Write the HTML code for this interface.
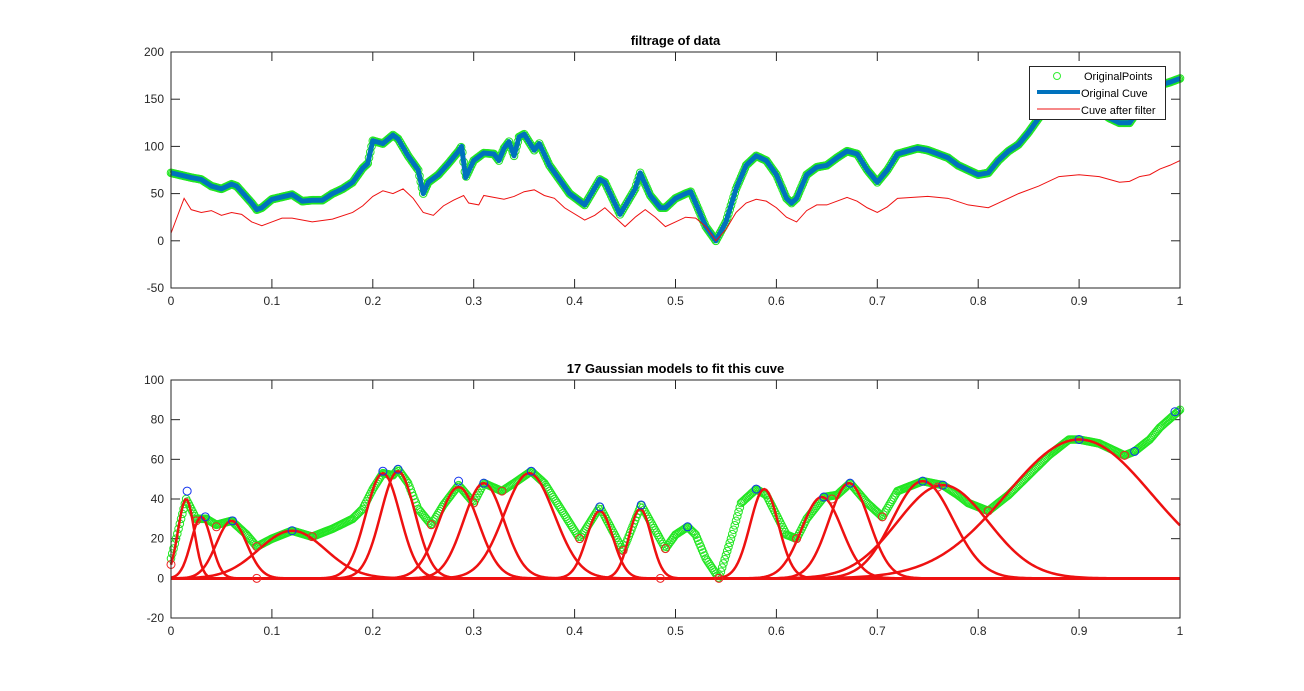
<!DOCTYPE html>
<html><head><meta charset="utf-8"><style>
html,body{margin:0;padding:0;background:#fff;}
svg{display:block;font-family:"Liberation Sans",sans-serif;}
</style></head><body>
<svg id="chart" width="1304" height="691" viewBox="0 0 1304 691">
<rect width="1304" height="691" fill="#ffffff"/>
</svg>
<script>
// ---- Top chart data ----
const origX = [0,0.02,0.03,0.04,0.05,0.06,0.065,0.08,0.085,0.09,0.1,0.12,0.13,0.14,0.15,0.16,0.17,0.18,0.19,0.195,0.2,0.21,0.22,0.225,0.235,0.245,0.25,0.255,0.265,0.275,0.285,0.288,0.292,0.3,0.31,0.32,0.325,0.33,0.335,0.34,0.345,0.35,0.36,0.365,0.375,0.385,0.395,0.41,0.425,0.43,0.445,0.46,0.465,0.475,0.485,0.49,0.5,0.51,0.515,0.52,0.53,0.54,0.55,0.56,0.57,0.58,0.59,0.6,0.61,0.615,0.62,0.63,0.64,0.65,0.66,0.67,0.68,0.69,0.7,0.71,0.72,0.74,0.75,0.76,0.77,0.78,0.79,0.8,0.81,0.82,0.83,0.84,0.85,0.86,0.87,0.88,0.9,0.91,0.93,0.94,0.95,0.96,0.97,0.98,0.99,1.0];
const origY = [72,67,65,58,55,60,58,40,33,35,44,49,42,43,43,50,55,62,77,82,106,103,112,108,90,75,50,62,70,82,95,100,67,85,93,92,85,98,105,90,110,113,96,103,80,65,50,38,65,62,28,55,72,48,35,35,45,50,52,40,15,0,20,55,80,90,85,70,45,40,45,70,78,80,88,95,92,75,62,75,92,98,96,92,88,80,75,70,72,85,95,102,115,130,145,155,152,145,130,125,125,140,155,165,168,172];
const filtX = [0,0.013,0.02,0.03,0.04,0.05,0.06,0.07,0.08,0.09,0.1,0.11,0.12,0.14,0.16,0.18,0.19,0.2,0.21,0.22,0.23,0.24,0.25,0.26,0.27,0.28,0.29,0.295,0.305,0.31,0.32,0.33,0.34,0.35,0.36,0.37,0.38,0.39,0.41,0.42,0.43,0.44,0.45,0.46,0.47,0.48,0.49,0.5,0.51,0.52,0.53,0.54,0.55,0.56,0.57,0.58,0.59,0.6,0.61,0.62,0.63,0.64,0.65,0.67,0.68,0.69,0.7,0.71,0.72,0.75,0.77,0.79,0.81,0.82,0.84,0.86,0.88,0.9,0.92,0.94,0.95,0.96,0.97,0.98,0.99,1.0];
const filtY = [8,45,33,30,32,27,30,28,20,16,20,24,24,20,23,30,37,47,53,50,55,45,30,27,37,43,48,40,38,48,46,44,47,52,54,48,45,35,22,27,35,25,15,25,33,25,15,20,25,24,15,0,12,30,40,44,42,35,25,20,32,38,38,46,42,35,30,36,45,47,45,38,35,40,50,58,68,70,68,62,63,68,70,76,80,85];
const topYTicks = [-50,0,50,100,150,200];
const xTicks = [0,0.1,0.2,0.3,0.4,0.5,0.6,0.7,0.8,0.9,1];
// ---- Bottom chart data ----
const fitX = [0,0.015,0.025,0.035,0.045,0.06,0.075,0.085,0.1,0.12,0.14,0.16,0.18,0.19,0.2,0.21,0.22,0.225,0.235,0.245,0.258,0.27,0.285,0.3,0.31,0.328,0.34,0.357,0.37,0.38,0.39,0.405,0.425,0.448,0.466,0.49,0.5,0.512,0.52,0.53,0.543,0.555,0.565,0.58,0.59,0.6,0.61,0.62,0.63,0.647,0.66,0.673,0.69,0.705,0.72,0.745,0.765,0.78,0.79,0.81,0.83,0.85,0.87,0.89,0.9,0.92,0.945,0.955,0.97,0.98,1.0];
const fitY = [10,40,30,30,27,29,22,16,20,24,21,25,30,35,45,53,52,55,48,35,27,37,47,38,48,44,48,54,48,40,32,20,36,14,37,15,22,26,22,10,0,20,38,45,42,32,22,20,30,41,42,48,38,31,44,49,47,42,38,34,42,52,62,70,70,68,62,64,70,76,85];
const gCenters = [0.015,0.03,0.06,0.12,0.21,0.225,0.285,0.31,0.355,0.425,0.465,0.588,0.645,0.672,0.745,0.765,0.9];
const gHeights = [40,31,29,24,53,54,46,48,53,34,35,45,41,48,49,47,70];
const gSigmas = [0.008,0.01,0.015,0.033,0.017,0.017,0.02,0.02,0.025,0.013,0.011,0.014,0.02,0.02,0.03,0.045,0.072];
const peakX = [0.016,0.034,0.061,0.12,0.21,0.225,0.285,0.31,0.357,0.425,0.466,0.512,0.58,0.647,0.673,0.745,0.765,0.9,0.955,0.995];
const peakY = [44,31,29,24,54,55,49,48,54,36,37,26,45,41,48,49,47,70,64,84];
const valX = [0,0.025,0.045,0.085,0.085,0.14,0.258,0.3,0.328,0.405,0.448,0.485,0.49,0.543,0.62,0.655,0.705,0.76,0.81,0.945];
const valY = [7,29,26,0,16,21,27,38,44,20,14,0,15,0,20,40,31,46,34,62];
const botYTicks = [-20,0,20,40,60,80,100];

const NS = "http://www.w3.org/2000/svg";
const svg = document.getElementById('chart');
function mk(tag, attrs, parent){const e=document.createElementNS(NS,tag);for(const k in attrs)e.setAttribute(k,attrs[k]);(parent||svg).appendChild(e);return e;}
function interp(xs,ys,x){if(x<=xs[0])return ys[0];for(let i=1;i<xs.length;i++){if(x<=xs[i]){const t=(x-xs[i-1])/(xs[i]-xs[i-1]);return ys[i-1]+t*(ys[i]-ys[i-1]);}}return ys[ys.length-1];}

const L=171,R=1180;
function sx(v){return L+v*(R-L);}
function makeAxes(top,bot,ymin,ymax,yTicks,title,name){
  const sy=v=>bot-(v-ymin)/(ymax-ymin)*(bot-top);
  const g=mk('g',{});
  
  
  xTicks.forEach(t=>{
    const x=sx(t);
    const a=mk('line',{x1:x,x2:x,y1:bot,y2:bot-9,stroke:'#262626','stroke-width':1},g);
    
    const b=mk('line',{x1:x,x2:x,y1:top,y2:top+9,stroke:'#262626','stroke-width':1},g);
    
    const tx=mk('text',{x:x,y:bot+17,'text-anchor':'middle','font-size':12,fill:'#262626'},g);
    tx.textContent=String(t);
    
  });
  yTicks.forEach(t=>{
    const y=sy(t);
    const a=mk('line',{x1:L,x2:L+9,y1:y,y2:y,stroke:'#262626','stroke-width':1},g);
    
    const b=mk('line',{x1:R,x2:R-9,y1:y,y2:y,stroke:'#262626','stroke-width':1},g);
    
    const tx=mk('text',{x:L-7,y:y+4,'text-anchor':'end','font-size':12,fill:'#262626'},g);
    tx.textContent=String(t);
    
  });
  const tt=mk('text',{x:(L+R)/2,y:top-7,'text-anchor':'middle','font-size':13,'font-weight':'bold',fill:'#000'},g);
  tt.textContent=title;
  
  return {sy,g};
}
function frame(top,bot){
  const f=mk('rect',{x:L,y:top,width:R-L,height:bot-top,fill:'none',stroke:'#262626','stroke-width':1});
  
}

// ===== TOP =====
const T=makeAxes(52,288,-50,200,topYTicks,'filtrage of data','top-axes');
const gPts=mk('g',{fill:'none',stroke:'#22e622','stroke-width':1});


for(let i=0;i<=800;i++){const v=i/800;const c=mk('circle',{cx:sx(v),cy:T.sy(interp(origX,origY,v)),r:3.8},gPts);

}
const op=mk('polyline',{points:origX.map((x,i)=>sx(x)+','+T.sy(origY[i])).join(' '),fill:'none',stroke:'#0072BD','stroke-width':5,'stroke-linejoin':'round'});

const fl=mk('polyline',{points:filtX.map((x,i)=>sx(x)+','+T.sy(filtY[i])).join(' '),fill:'none',stroke:'#ee1111','stroke-width':1});

frame(52,288);
// legend
const lg=mk('g',{});

mk('rect',{x:1029.5,y:66.5,width:136,height:53,fill:'#fff',stroke:'#262626','stroke-width':1},lg);
mk('circle',{cx:1057,cy:76,r:3.5,fill:'none',stroke:'#33ee33'},lg);
mk('line',{x1:1037,x2:1080,y1:92,y2:92,stroke:'#0072BD','stroke-width':4},lg);
mk('line',{x1:1037,x2:1080,y1:109,y2:109,stroke:'#ee1111','stroke-width':1},lg);
[['OriginalPoints',1084,80],['Original Cuve',1081,97],['Cuve after filter',1081,114]].forEach(([s,x,y])=>{
  const t=mk('text',{x:x,y:y,'font-size':11,fill:'#000'},lg);t.textContent=s;
  
});

// ===== BOTTOM =====
const B=makeAxes(380,618,-20,100,botYTicks,'17 Gaussian models to fit this cuve','bottom-axes');
const gPts2=mk('g',{fill:'none',stroke:'#22e622','stroke-width':1});


for(let i=0;i<=800;i++){const v=i/800;const c=mk('circle',{cx:sx(v),cy:B.sy(interp(fitX,fitY,v)),r:3.8},gPts2);

}
const gg=mk('g',{fill:'none',stroke:'#ee1111','stroke-width':2.5});

gCenters.forEach((c,k)=>{
  const pts=[];for(let i=0;i<=500;i++){const v=i/500;const y=gHeights[k]*Math.exp(-((v-c)**2)/(2*gSigmas[k]**2));pts.push(sx(v)+','+B.sy(y));}
  const p=mk('polyline',{points:pts.join(' ')},gg);
  
  
});
const pk=mk('g',{fill:'none',stroke:'#1133ee','stroke-width':1});

peakX.forEach((x,i)=>{const c=mk('circle',{cx:sx(x),cy:B.sy(peakY[i]),r:4},pk);

});
const vl=mk('g',{fill:'none',stroke:'#ee2222','stroke-width':1});

valX.forEach((x,i)=>{const c=mk('circle',{cx:sx(x),cy:B.sy(valY[i]),r:4},vl);

});
frame(380,618);
</script>
</body></html>
